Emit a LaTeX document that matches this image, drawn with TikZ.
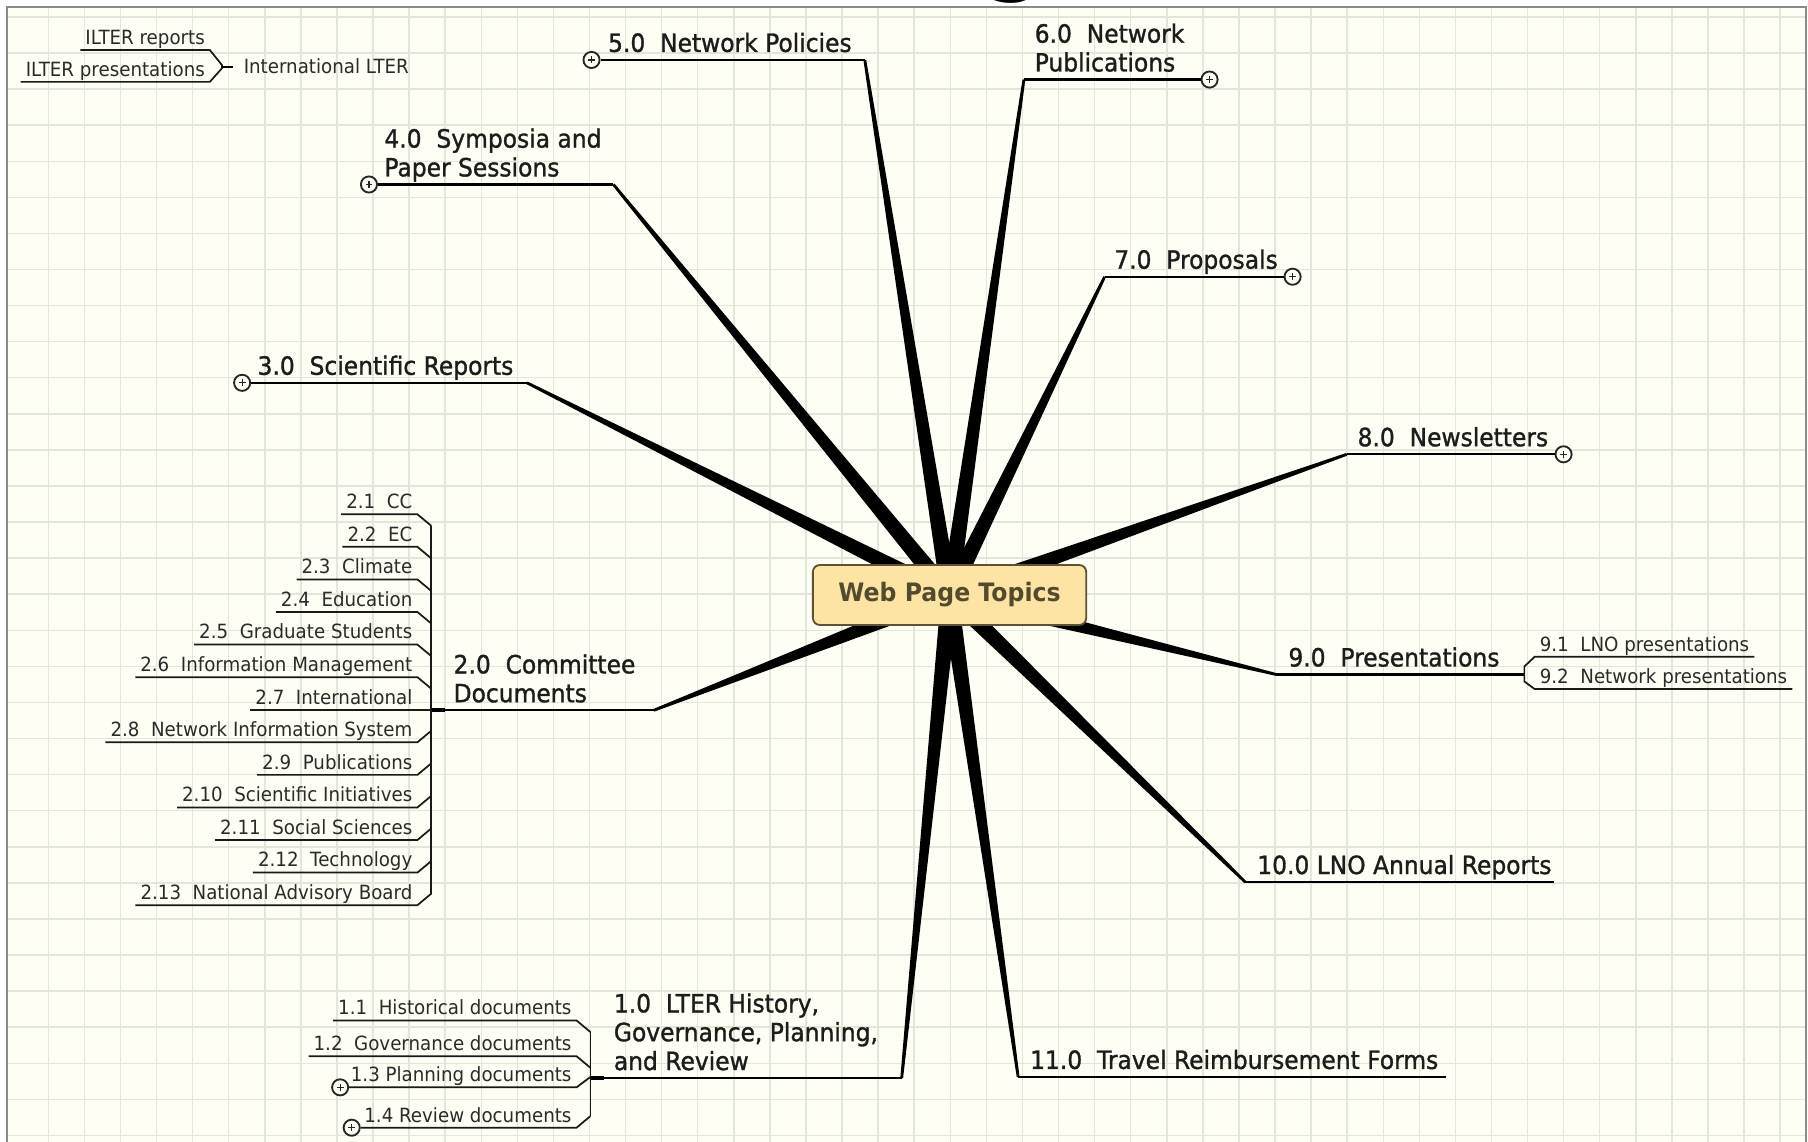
\documentclass[tikz,border=0pt]{standalone}
\usepackage{fontspec}
\setmainfont{DejaVu Sans}[FakeStretch=0.93]
\newfontfamily\mainlabfont{DejaVu Sans}[FakeStretch=0.93, FakeBold=1.2]
\usetikzlibrary{calc}
\definecolor{bgc}{HTML}{FEFEF5}
\definecolor{gridc}{HTML}{E3E6DA}
\definecolor{borderc}{HTML}{8A8A8A}
\definecolor{boxfill}{HTML}{FDE3A4}
\definecolor{boxdraw}{HTML}{5E5236}
\definecolor{boxtext}{HTML}{544A2E}
\definecolor{maintext}{HTML}{1C1C1C}
\definecolor{subtext}{HTML}{2A2A2A}
\newcommand\wedgeto[1]{\fill[wedge] ($(ctr)!3.7pt!90:(#1)$) -- ($(#1)!0.6pt!-90:(ctr)$) -- ($(#1)!0.6pt!90:(ctr)$) -- ($(ctr)!3.7pt!-90:(#1)$) -- cycle;}
\begin{document}
\begin{tikzpicture}[x=0.5pt,y=-0.5pt,
  gridline/.style={draw=gridc, line width=0.65pt},
  framel/.style={draw=borderc, line width=0.85pt},
  mainlab/.style={anchor=base west, inner sep=0pt, text=maintext, font=\mainlabfont\fontsize{10.9pt}{12.5pt}\selectfont},
  sublab/.style={inner xsep=2pt, inner ysep=0pt, text depth=2.25pt, text=subtext, font=\fontsize{8.5pt}{10pt}\selectfont},
  mainline/.style={draw=black, line width=1pt},
  subline/.style={draw=black!90, line width=0.75pt},
  knob/.style={draw=black, line width=1.6pt},
  wedge/.style={fill=black},
  expander/.style={circle, draw=black!85, fill=bgc, line width=0.8pt, minimum size=7pt, inner sep=0pt,
    path picture={\draw[line width=0.5pt,black!85] ([xshift=-1.5pt]path picture bounding box.center) -- ([xshift=1.5pt]path picture bounding box.center) ([yshift=-1.5pt]path picture bounding box.center) -- ([yshift=1.5pt]path picture bounding box.center);}},
  centerbox/.style={rounded corners=3pt, draw=boxdraw, fill=boxfill, line width=0.8pt, minimum width=118.5pt, minimum height=26pt, inner sep=0pt, text=boxtext, font=\fontsize{11pt}{13pt}\selectfont\bfseries}
]
\useasboundingbox (0,0) rectangle (1568,990);
% background
\fill[white] (0,0) rectangle (1568,990);
\fill[bgc] (6.3,5.8) rectangle (1566.3,990);
\foreach \k in {1,...,49} \draw[gridline] ({10.6+31.29*\k},5.8) -- ({10.6+31.29*\k},990);
\foreach \k in {0,...,31} \draw[gridline] (6.3,{14.7+31.29*\k}) -- (1566.3,{14.7+31.29*\k});
\draw[framel] (6.3,990) -- (6.3,5.8) -- (1566.3,5.8) -- (1566.3,990);
% cut-off title fragment
\begin{scope}
\clip (0,-80) rectangle (1568,5.4);
\node[anchor=base, inner sep=0pt, font=\fontsize{40pt}{40pt}\selectfont\bfseries] (gfrag) at (880,-14) {g};
\end{scope}

% centre and elbows
\coordinate (ctr) at (823.5,516);
\coordinate (e1) at (782,935);
\coordinate (e2) at (567,616);
\coordinate (e3) at (457,332);
\coordinate (e4) at (532,160);
\coordinate (e5) at (750,52);
\coordinate (e6) at (888,69);
\coordinate (e7) at (958,240);
\coordinate (e8) at (1168,394);
\coordinate (e9) at (1107,585);
\coordinate (e10) at (1080,765);
\coordinate (e11) at (883,934);

\wedgeto{e1}\wedgeto{e2}\wedgeto{e3}\wedgeto{e4}\wedgeto{e5}\wedgeto{e6}
\wedgeto{e7}\wedgeto{e8}\wedgeto{e9}\wedgeto{e10}\wedgeto{e11}

% expanders
\node[expander] (x5) at (513,52) {};
\node[expander] (x6) at (1049,69) {};
\node[expander] (x4) at (320,160) {};
\node[expander] (x7) at (1121,240) {};
\node[expander] (x3) at (210,332) {};
\node[expander] (x8) at (1356,394) {};
\node[expander] (x13) at (295,943) {};
\node[expander] (x14) at (305,978) {};

% main lines
\coordinate (r10) at (1348,765);
\coordinate (r11) at (1254,934);
\coordinate (j1) at (512,935);
\coordinate (j2) at (374,616);
\coordinate (j9) at (1322,585);
\draw[mainline] (x5) -- (e5);
\draw[mainline] (e6) -- (x6);
\draw[mainline] (x4) -- (e4);
\draw[mainline] (e7) -- (x7);
\draw[mainline] (x3) -- (e3);
\draw[mainline] (e8) -- (x8);
\draw[mainline] (j2) -- (e2);
\draw[mainline] (e9) -- (j9);
\draw[mainline] (e10) -- (r10);
\draw[mainline] (e11) -- (r11);
\draw[mainline] (j1) -- (e1);
\draw[knob] (j2) -- ++(12,0);
\draw[knob] (j1) -- ++(12,0);
\draw[knob] (j9) -- ++(-12,0);

% centre topic
\node[centerbox] (c) at (ctr) {Web Page Topics};

% main labels
\node[mainlab] (t5) at (527,45) {5.0\ \ Network Policies};
\node[mainlab] (t6) at (897,62) {\begin{tabular}[b]{@{}l@{}}6.0\ \ Network\\Publications\end{tabular}};
\node[mainlab] (t4) at (333,153) {\begin{tabular}[b]{@{}l@{}}4.0\ \ Symposia and\\Paper Sessions\end{tabular}};
\node[mainlab] (t7) at (966,233) {7.0\ \ Proposals};
\node[mainlab] (t3) at (223,325) {3.0\ \ Scientific Reports};
\node[mainlab] (t8) at (1177,387) {8.0\ \ Newsletters};
\node[mainlab] (t2) at (393,609) {\begin{tabular}[b]{@{}l@{}}2.0\ \ Committee\\Documents\end{tabular}};
\node[mainlab] (t9) at (1117,578) {9.0\ \ Presentations};
\node[mainlab] (t10) at (1090,758) {10.0 LNO Annual Reports};
\node[mainlab] (t11) at (893,927) {11.0\ \ Travel Reimbursement Forms};
\node[mainlab] (t1) at (532,928) {\begin{tabular}[b]{@{}l@{}}1.0\ \ LTER History,\\Governance, Planning,\\and Review\end{tabular}};

% 2.x sub topics
\foreach \i/\t/\d in {1/CC/10, 2/EC/10, 3/Climate/10, 4/Education/10, 5/Graduate Students/10, 6/Information Management/10, 7/International/0, 8/Network Information System/-10, 9/Publications/-10, 10/Scientific Initiatives/-10, 11/Social Sciences/-10, 12/Technology/-10, 13/National Advisory Board/-10}{
  \node[sublab, anchor=south east] (s2-\i) at (362,{446+28.25*(\i-1)}) {2.\i\ \ \t};
  \coordinate (b2-\i) at (374,{446+28.25*(\i-1)+(\d)});
  \draw[subline] (s2-\i.south west) -- (s2-\i.south east) -- (b2-\i);
}
\draw[subline] (b2-1) -- (b2-13);

% 1.x sub topics
\node[sublab, anchor=south east] (s11) at (500,885) {1.1\ \ Historical documents};
\node[sublab, anchor=south east] (s12) at (500,916) {1.2\ \ Governance documents};
\node[sublab, anchor=south east] (s13) at (500,943) {1.3 Planning documents};
\node[sublab, anchor=south east] (s14) at (500,978) {1.4 Review documents};
\coordinate (b11) at (512,895);
\coordinate (b12) at (512,926);
\coordinate (b13) at (512,934);
\coordinate (b14) at (512,968);
\draw[subline] (s11.south west) -- (s11.south east) -- (b11);
\draw[subline] (s12.south west) -- (s12.south east) -- (b12);
\draw[subline] (x13) -- (s13.south east) -- (b13);
\draw[subline] (x14) -- (s14.south east) -- (b14);
\draw[subline] (b11) -- (b14);

% 9.x sub topics
\node[sublab, anchor=south west] (s91) at (1331,569.5) {9.1\ \ LNO presentations};
\node[sublab, anchor=south west] (s92) at (1331,597.6) {9.2\ \ Network presentations};
\coordinate (b91) at (1322,578);
\coordinate (b92) at (1322,591);
\draw[subline] (s91.south east) -- (s91.south west) -- (b91) -- (b92) -- (s92.south west) -- (s92.south east);

% International LTER floating topic
\node[sublab, anchor=south east] (ir) at (182,43.4) {ILTER reports};
\node[sublab, anchor=south east] (ip) at (182,71) {ILTER presentations};
\node[anchor=base west, inner sep=0pt, text=subtext, font=\fontsize{8.5pt}{10pt}\selectfont] (il) at (211,64) {International LTER};
\coordinate (bi1) at (192.5,56.4);
\coordinate (bi2) at (192.5,59.2);
\coordinate (ji) at (192.5,58);
\draw[subline] (ir.south west) -- (ir.south east) -- (bi1) -- (bi2) -- (ip.south east) -- (ip.south west);
\draw[draw=black, line width=1.1pt] (ji) -- ++(10,0);
\end{tikzpicture}
\end{document}
